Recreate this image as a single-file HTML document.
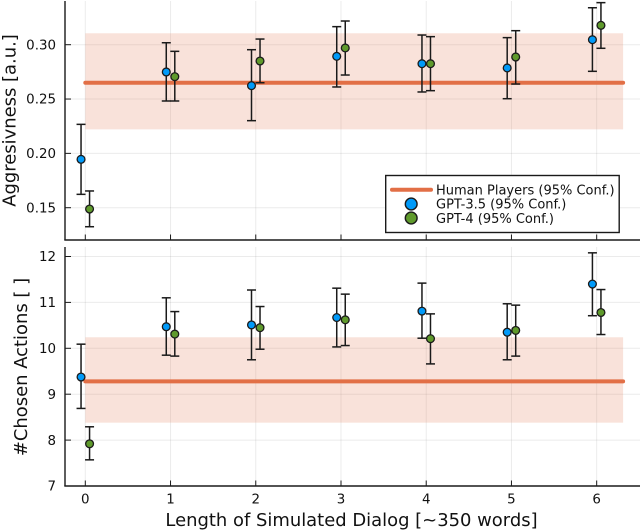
<!DOCTYPE html>
<html>
<head>
<meta charset="utf-8">
<style>
html,body{margin:0;padding:0;background:#fff;}
svg{display:block;font-family:"DejaVu Sans","Liberation Sans",sans-serif;filter:blur(0.3px);}
</style>
</head>
<body>
<svg id="chart" xmlns="http://www.w3.org/2000/svg" width="640" height="531" viewBox="0 0 640 531"></svg>
<script>
const xCategories = [0, 1, 2, 3, 4, 5, 6];
const topTicks = [0.15, 0.20, 0.25, 0.30];
const bottomTicks = [7, 8, 9, 10, 11, 12];

const aggGpt35Mean = [0.1945, 0.2749, 0.2623, 0.2893, 0.2825, 0.2786, 0.3046];
const aggGpt35High = [0.2267, 0.3018, 0.2954, 0.3166, 0.3089, 0.3065, 0.3340];
const aggGpt35Low = [0.1623, 0.2482, 0.2301, 0.2611, 0.2565, 0.2503, 0.2755];
const aggGpt4Mean = [0.1488, 0.2706, 0.2850, 0.2970, 0.2825, 0.2887, 0.3178];
const aggGpt4High = [0.1654, 0.2939, 0.3052, 0.3218, 0.3074, 0.3129, 0.3387];
const aggGpt4Low = [0.1325, 0.2482, 0.2650, 0.2721, 0.2577, 0.2638, 0.2967];
const aggHuman = [0.265, 0.2221, 0.3105];

const actGpt35Mean = [9.375, 10.47, 10.51, 10.67, 10.81, 10.35, 11.40];
const actGpt35High = [10.09, 11.10, 11.27, 11.31, 11.42, 10.97, 12.08];
const actGpt35Low = [8.69, 9.85, 9.75, 10.03, 10.22, 9.75, 10.71];
const actGpt4Mean = [7.92, 10.31, 10.45, 10.62, 10.21, 10.39, 10.78];
const actGpt4High = [8.29, 10.80, 10.91, 11.18, 10.75, 10.94, 11.28];
const actGpt4Low = [7.57, 9.83, 9.98, 10.06, 9.66, 9.83, 10.30];
const actHuman = [9.28, 8.38, 10.24];

const humanXRange = [0, 6.31];
const seriesOffset = 0.05;

const BLUE = '#009af9', GREEN = '#5f9a2c', ORANGE = '#e26f46', INK = '#1a1a1a';
const svg = document.getElementById('chart');

function xAxis(v) { return 85.3 + v * 85.23; }
function yAxisTop(v) { return 44.7 + (0.30 - v) * 1086.7; }
function yAxisBottom(v) { return 486 - (v - 7) * 45.9; }

function make(tag, attrs, parent) {
  const el = document.createElementNS('http://www.w3.org/2000/svg', tag);
  for (const k in attrs) el.setAttribute(k, attrs[k]);
  (parent || svg).appendChild(el);
  return el;
}

function drawPanel(name, yAxis, yTicks, tickFmt, top, bottom, human, s1, s2) {
  const g = make('g', {});
  
  

  xCategories.forEach(function (c) {
    const l = make('line', { x1: xAxis(c), x2: xAxis(c), y1: top, y2: bottom, stroke: '#000', 'stroke-opacity': 0.08, 'stroke-width': 1 }, g);
    
    
  });
  yTicks.forEach(function (t) {
    const l = make('line', { x1: 65, x2: 640, y1: yAxis(t), y2: yAxis(t), stroke: '#000', 'stroke-opacity': 0.08, 'stroke-width': 1 }, g);
    
    
  });

  const band = make('rect', {
    x: xAxis(humanXRange[0]), width: xAxis(humanXRange[1]) - xAxis(humanXRange[0]),
    y: yAxis(human[2]), height: yAxis(human[1]) - yAxis(human[2]),
    fill: ORANGE, 'fill-opacity': 0.2
  }, g);
  
  

  const hl = make('line', {
    x1: xAxis(humanXRange[0]), x2: xAxis(humanXRange[1]), y1: yAxis(human[0]), y2: yAxis(human[0]),
    stroke: ORANGE, 'stroke-width': 4, 'stroke-linecap': 'round'
  }, g);
  
  

  [s1, s2].forEach(function (s) {
    xCategories.forEach(function (c, i) {
      const x = xAxis(c + s.offset);
      const e = make('g', { stroke: INK, 'stroke-width': 1.5, fill: 'none' }, g);
      
      
      make('line', { x1: x, x2: x, y1: yAxis(s.high[i]), y2: yAxis(s.low[i]) }, e);
      make('line', { x1: x - 4.5, x2: x + 4.5, y1: yAxis(s.high[i]), y2: yAxis(s.high[i]) }, e);
      make('line', { x1: x - 4.5, x2: x + 4.5, y1: yAxis(s.low[i]), y2: yAxis(s.low[i]) }, e);
    });
  });
  [s1, s2].forEach(function (s) {
    xCategories.forEach(function (c, i) {
      const p = make('circle', { cx: xAxis(c + s.offset), cy: yAxis(s.mean[i]), r: 3.9, fill: s.color, stroke: INK, 'stroke-width': 1.3 }, g);
      
      
    });
  });

  const ya = make('line', { x1: 65, x2: 65, y1: top, y2: bottom, stroke: INK, 'stroke-width': 1.4 }, g);
  
  
  const xa = make('line', { x1: 64.3, x2: 640, y1: bottom, y2: bottom, stroke: INK, 'stroke-width': 1.4 }, g);
  
  

  xCategories.forEach(function (c) {
    const t = make('line', { x1: xAxis(c), x2: xAxis(c), y1: bottom, y2: bottom - 5.5, stroke: INK, 'stroke-width': 1 }, g);
    
    
  });
  yTicks.forEach(function (v) {
    const t = make('line', { x1: 65, x2: 71, y1: yAxis(v), y2: yAxis(v), stroke: INK, 'stroke-width': 1 }, g);
    
    
    const lb = make('text', { x: 56, y: yAxis(v) + 4.7, 'text-anchor': 'end', 'font-size': 13.4, fill: '#111' }, g);
    
    
    lb.textContent = tickFmt(v);
  });
}

drawPanel('aggressiveness', yAxisTop, topTicks, function (v) { return v.toFixed(2); }, 1, 240, aggHuman,
  { key: 'gpt-3-5', color: BLUE, offset: -seriesOffset, mean: aggGpt35Mean, high: aggGpt35High, low: aggGpt35Low },
  { key: 'gpt-4', color: GREEN, offset: seriesOffset, mean: aggGpt4Mean, high: aggGpt4High, low: aggGpt4Low });

drawPanel('chosen-actions', yAxisBottom, bottomTicks, function (v) { return String(v); }, 247, 486, actHuman,
  { key: 'gpt-3-5', color: BLUE, offset: -seriesOffset, mean: actGpt35Mean, high: actGpt35High, low: actGpt35Low },
  { key: 'gpt-4', color: GREEN, offset: seriesOffset, mean: actGpt4Mean, high: actGpt4High, low: actGpt4Low });

xCategories.forEach(function (c) {
  const lb = make('text', { x: xAxis(c), y: 503.5, 'text-anchor': 'middle', 'font-size': 13.4, fill: '#111' });
  
  
  lb.textContent = String(c);
});

const xTitle = make('text', { x: 351.5, y: 526, 'text-anchor': 'middle', 'font-size': 17.95, fill: '#111' });


xTitle.textContent = 'Length of Simulated Dialog [~350 words]';

const yTitleTop = make('text', { transform: 'translate(15.5,120.5) rotate(-90)', 'text-anchor': 'middle', 'font-size': 17.95, fill: '#111' });


yTitleTop.textContent = 'Aggresivness [a.u.]';

const yTitleBottom = make('text', { transform: 'translate(27,367) rotate(-90)', 'text-anchor': 'middle', 'font-size': 17.95, fill: '#111' });


yTitleBottom.textContent = '#Chosen Actions [ ]';

const legend = make('g', {});


make('rect', { x: 385.7, y: 175.5, width: 233.5, height: 57, fill: '#fff', stroke: INK, 'stroke-width': 1.4 }, legend);
make('line', { x1: 392, x2: 431, y1: 189.7, y2: 189.7, stroke: ORANGE, 'stroke-width': 4, 'stroke-linecap': 'round' }, legend);
make('circle', { cx: 411.2, cy: 204, r: 5.9, fill: BLUE, stroke: INK, 'stroke-width': 1.4 }, legend);
make('circle', { cx: 411.2, cy: 218, r: 5.9, fill: GREEN, stroke: INK, 'stroke-width': 1.4 }, legend);
const legendLabels = ['Human Players (95% Conf.)', 'GPT-3.5 (95% Conf.)', 'GPT-4 (95% Conf.)'];
legendLabels.forEach(function (t, i) {
  const lb = make('text', { x: 436, y: 194.4 + i * 14.2, 'font-size': 13, fill: '#111' }, legend);
  
  
  lb.textContent = t;
});
</script>
</body>
</html>
